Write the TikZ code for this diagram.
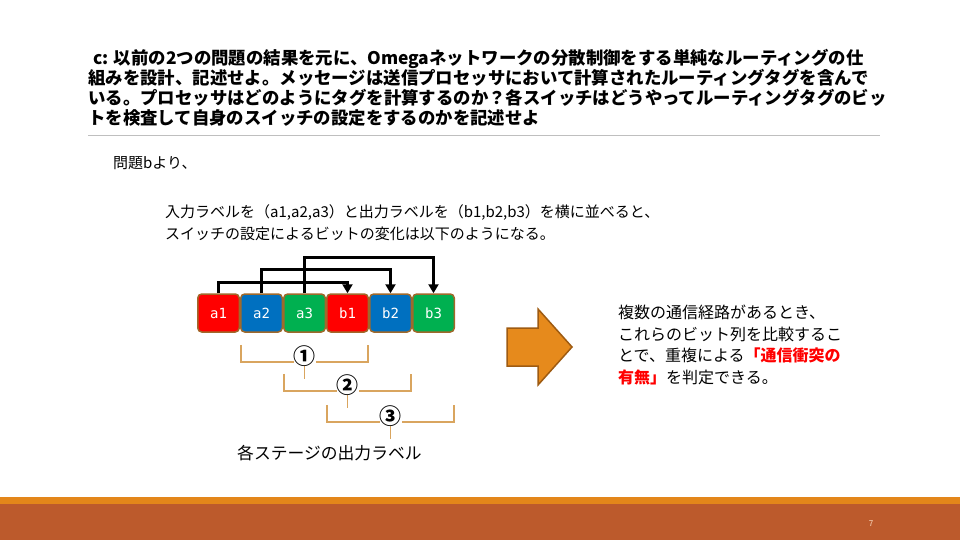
\documentclass[tikz,border=0pt]{standalone}
\usepackage{fontspec}
\setmainfont{Noto Sans CJK JP}
\newfontfamily\labelfont{DejaVu Sans Mono}
\usepackage{tikz}
\usetikzlibrary{
  positioning,
  arrows.meta,
  calc
}
\definecolor{bitred}{HTML}{FF0000}
\definecolor{bitblue}{HTML}{0070C0}
\definecolor{bitgreen}{HTML}{00B050}
\definecolor{bitborder}{HTML}{A0692B}
\definecolor{bracecol}{HTML}{D9A55F}
\definecolor{arrowfill}{HTML}{E68A1C}
\definecolor{arrowline}{HTML}{9E5B12}
\definecolor{bandorange}{HTML}{E3861A}
\definecolor{bandrust}{HTML}{BC5A2C}
\definecolor{rulegray}{HTML}{BFBFBF}

\begin{document}
\begin{tikzpicture}[
    x=1pt, y=-1pt,
    bit/.style={draw=bitborder, line width=1.5pt, rounded corners=4pt,
        minimum width=41.5pt, minimum height=38pt, inner sep=0pt,
        text=white, font=\labelfont\fontsize{14}{14}\selectfont},
    route/.style={line width=3pt, -{Triangle[width=10pt,length=9pt]}},
    brace/.style={bracecol, line width=1.5pt},
    stage/.style={fill=white, inner sep=0pt, font=\bfseries\fontsize{22}{22}\selectfont}
]
    \useasboundingbox (0,0) rectangle (960,540);

    % 問題文
    \node[anchor=north west, inner sep=0pt, align=left,
          font=\bfseries\fontsize{17.4}{20}\selectfont] (question) at (88,49)
        {\hspace{5pt}c: 以前の2つの問題の結果を元に、Omegaネットワークの分散制御をする単純なルーティングの仕\\
         組みを設計、記述せよ。メッセージは送信プロセッサにおいて計算されたルーティングタグを含んで\\
         いる。プロセッサはどのようにタグを計算するのか？各スイッチはどうやってルーティングタグのビッ\\
         トを検査して自身のスイッチの設定をするのかを記述せよ};
    \draw[rulegray, line width=1pt] (88,136) -- (880,136);

    \node[anchor=west, inner sep=0pt, font=\fontsize{15}{15}\selectfont] (intro) at (113,163) {問題bより、};
    \node[anchor=north west, inner sep=0pt, align=left, font=\fontsize{15}{22}\selectfont] (setup) at (165,204)
        {入力ラベルを（a1,a2,a3）と出力ラベルを（b1,b2,b3）を横に並べると、\\
         スイッチの設定によるビットの変化は以下のようになる。};

    % ラベルのビット列
    \node[bit, fill=bitred] (a1) at (218.5,313) {a1};
    \node[bit, fill=bitblue, right=0pt of a1] (a2) {a2};
    \node[bit, fill=bitgreen, right=0pt of a2] (a3) {a3};
    \node[bit, fill=bitred, right=0pt of a3] (b1) {b1};
    \node[bit, fill=bitblue, right=0pt of b1] (b2) {b2};
    \node[bit, fill=bitgreen, right=0pt of b2] (b3) {b3};

    \draw[route] (a1.north) -- ++(0,-11) -| (b1.north);
    \draw[route] (a2.north) -- ++(0,-24) -| (b2.north);
    \draw[route] (a3.north) -- ++(0,-36) -| (b3.north);

    % 各ステージの出力ラベル
    \foreach \n/\l/\r/\t/\h in {1/a2/b1/12/29, 2/a3/b2/41/58, 3/b1/b3/72/89} {
        \draw[brace] ($(\l.south west)+(1,\t)$) -- ($(\l.south west)+(1,\h)$)
            -- ($(\r.south east)+(-1,\h)$) -- ($(\r.south east)+(-1,\t)$);
        \draw[brace] ($(\l.south west)!0.5!(\r.south east)+(0,\h)$) -- ++(0,17);
        \node[stage] (s\n) at ($(\l.south west)!0.5!(\r.south east)+(0,\h-6)$)
            {\ifcase\n\or ①\or ②\or ③\fi};
    }
    \node[anchor=west, inner sep=0pt, font=\fontsize{16.8}{16.8}\selectfont] (outlabel) at (237,453) {各ステージの出力ラベル};

    % 矢印
    \draw[fill=arrowfill, draw=arrowline, line width=1.5pt, line join=miter]
        (507,328) -- (538,328) -- (538,309) -- (572,347) -- (538,385) -- (538,366) -- (507,366) -- cycle;

    \node[anchor=north west, inner sep=0pt, align=left, font=\fontsize{16}{21.6}\selectfont] (result) at (618,305)
        {複数の通信経路があるとき、\\
         これらのビット列を比較するこ\\
         とで、重複による{\bfseries\color{bitred}「通信衝突の}\\
         {\bfseries\color{bitred}有無」}を判定できる。};

    % 下の帯
    \fill[bandorange] (0,497) rectangle (960,504);
    \fill[bandrust] (0,504) rectangle (960,540);
    \node[text=orange!20, font=\fontsize{8}{8}\selectfont, inner sep=0pt] (page) at (871,524) {7};
\end{tikzpicture}
\end{document}
